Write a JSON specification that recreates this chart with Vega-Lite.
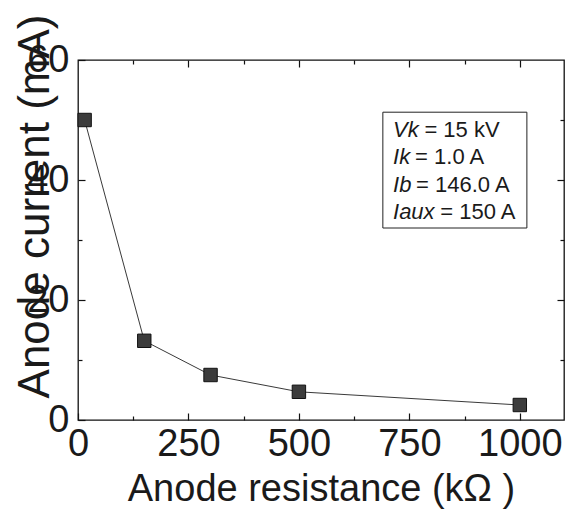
{
  "$schema": "https://vega.github.io/schema/vega-lite/v6.json",
  "width": 486,
  "height": 360,
  "autosize": {"type": "none"},
  "padding": {"left": 78, "top": 60, "right": 4, "bottom": 92},
  "background": "white",
  "config": {
    "font": "Liberation Sans",
    "view": {"stroke": "#111", "strokeWidth": 1.3},
    "axis": {"domain": false, "grid": false, "tickColor": "#111", "tickWidth": 1.2, "labelColor": "#1a1a1a", "titleColor": "#1a1a1a", "labelFont": "Liberation Sans", "titleFont": "Liberation Sans", "titleFontWeight": "normal"}
  },
  "datasets": {
    "pts": [
      {"resistance": 15, "current": 50.0},
      {"resistance": 150, "current": 13.2},
      {"resistance": 300, "current": 7.5},
      {"resistance": 500, "current": 4.7},
      {"resistance": 1000, "current": 2.5}
    ],
    "box": [{"x1": 690, "x2": 1016, "y1": 32, "y2": 51.3}],
    "varnames": [
      {"lab": "Vk", "x": 713, "y": 47.2},
      {"lab": "Ik", "x": 713, "y": 42.7},
      {"lab": "Ib", "x": 713, "y": 38.0},
      {"lab": "Iaux", "x": 713, "y": 33.5}
    ],
    "varvals": [
      {"lab": "= 15 kV", "x": 784, "y": 47.2},
      {"lab": "= 1.0 A", "x": 763, "y": 42.7},
      {"lab": "= 146.0 A", "x": 765, "y": 38.0},
      {"lab": "= 150 A", "x": 820, "y": 33.5}
    ]
  },
  "resolve": {"axis": {"x": "independent", "y": "independent"}},
  "layer": [
    {
      "data": {"name": "pts"},
      "mark": {"type": "line", "color": "#222", "strokeWidth": 0.9},
      "encoding": {
        "x": {"field": "resistance", "type": "quantitative", "scale": {"domain": [0, 1100], "nice": false, "zero": false},
          "axis": {"orient": "bottom", "values": [0, 125, 250, 375, 500, 625, 750, 875, 1000], "format": "d",
            "tickSize": {"condition": {"test": "datum.value % 250 === 0", "value": -7}, "value": -4},
            "labelExpr": "datum.value % 250 === 0 ? datum.label : ''",
            "labelFontSize": 38, "labelPadding": 12, "labelFlush": false, "labelOverlap": false,
            "title": "Anode resistance (kΩ )", "titleFontSize": 38, "titleY": 80, "titleBaseline": "alphabetic"}},
        "y": {"field": "current", "type": "quantitative", "scale": {"domain": [0, 60], "nice": false},
          "axis": {"orient": "left", "values": [0, 10, 20, 30, 40, 50, 60], "format": "d",
            "tickSize": {"condition": {"test": "datum.value % 20 === 0", "value": -7}, "value": -4},
            "labelExpr": "datum.value % 20 === 0 ? datum.label : ''",
            "labelFontSize": 38, "labelPadding": 16, "labelFlush": false, "labelOverlap": false, "labelBaseline": "middle",
            "title": "Anode current (mA)", "titleFontSize": 44, "titleX": -43, "titleY": 146, "titleAngle": -90, "titleAlign": "center", "titleBaseline": "middle"}}
      }
    },
    {
      "data": {"name": "pts"},
      "mark": {"type": "point", "shape": "square", "filled": true, "size": 180, "fill": "#3c3c3c", "stroke": "#111", "strokeWidth": 1, "opacity": 1},
      "encoding": {
        "x": {"field": "resistance", "type": "quantitative", "scale": {"domain": [0, 1100], "nice": false, "zero": false},
          "axis": {"orient": "top", "values": [125, 250, 375, 500, 625, 750, 875, 1000],
            "tickSize": {"condition": {"test": "datum.value % 250 === 0", "value": -7}, "value": -4},
            "labels": false, "title": null}},
        "y": {"field": "current", "type": "quantitative", "scale": {"domain": [0, 60], "nice": false},
          "axis": {"orient": "right", "values": [10, 20, 30, 40, 50],
            "tickSize": {"condition": {"test": "datum.value % 20 === 0", "value": -7}, "value": -4},
            "labels": false, "title": null}}
      }
    },
    {
      "data": {"name": "box"},
      "mark": {"type": "rect", "fill": "white", "stroke": "#222", "strokeWidth": 1},
      "encoding": {
        "x": {"field": "x1", "type": "quantitative", "axis": null},
        "x2": {"field": "x2"},
        "y": {"field": "y1", "type": "quantitative", "axis": null},
        "y2": {"field": "y2"}
      }
    },
    {
      "data": {"name": "varnames"},
      "mark": {"type": "text", "align": "left", "baseline": "alphabetic", "fontSize": 22, "fontStyle": "italic", "color": "#1a1a1a", "font": "Liberation Sans"},
      "encoding": {
        "x": {"field": "x", "type": "quantitative", "axis": null},
        "y": {"field": "y", "type": "quantitative", "axis": null},
        "text": {"field": "lab"}
      }
    },
    {
      "data": {"name": "varvals"},
      "mark": {"type": "text", "align": "left", "baseline": "alphabetic", "fontSize": 22, "color": "#1a1a1a", "font": "Liberation Sans"},
      "encoding": {
        "x": {"field": "x", "type": "quantitative", "axis": null},
        "y": {"field": "y", "type": "quantitative", "axis": null},
        "text": {"field": "lab"}
      }
    }
  ]
}
